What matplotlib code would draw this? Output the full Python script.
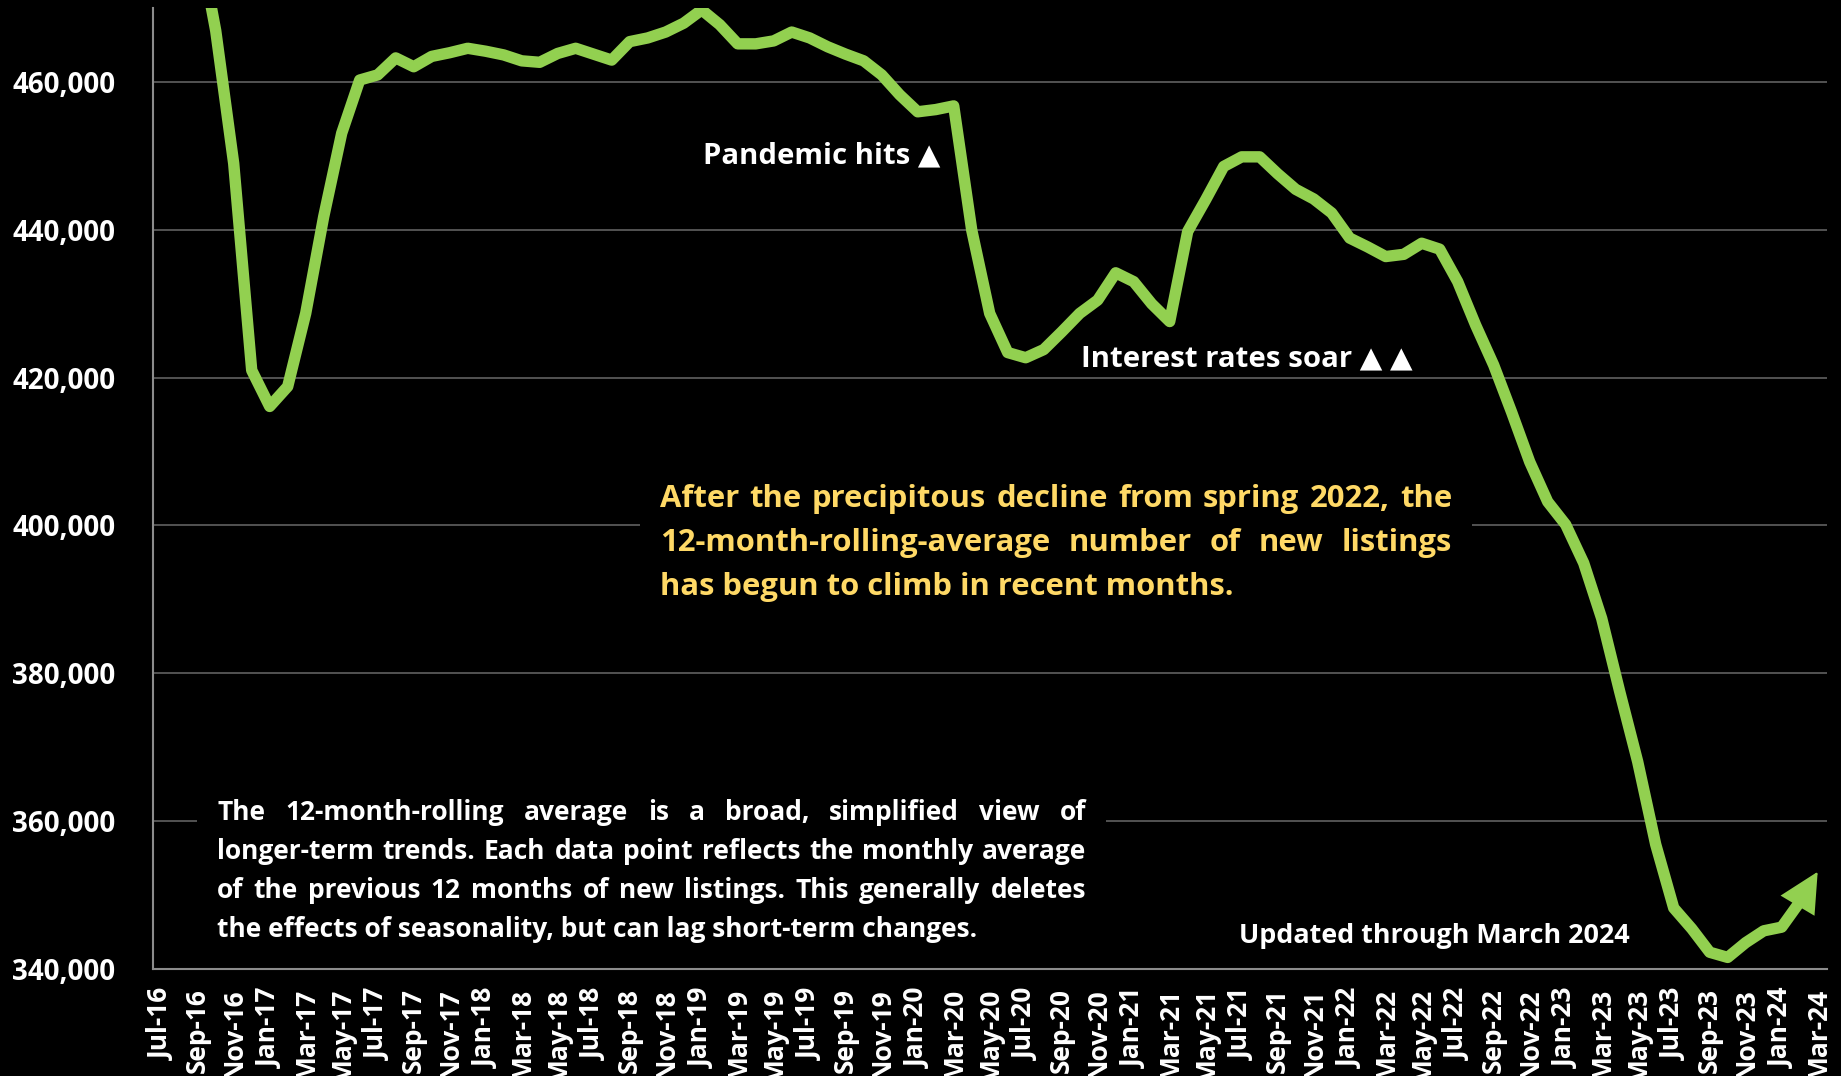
import matplotlib
matplotlib.use("Agg")
import matplotlib.pyplot as plt
from matplotlib.patches import Rectangle
from matplotlib.ticker import FixedLocator, FuncFormatter

# 12-month rolling average of new listings, monthly from Jul-16 to Mar-24
listings = [
    500000, 492000, 480000, 467000, 449000, 421000, 416100, 418800, 428700, 441800,
    453100, 460300, 461000, 463300, 462100, 463500, 464000, 464600, 464200, 463700,
    462900, 462700, 463900, 464600, 463800, 463000, 465500, 466000, 466800, 468000,
    469800, 467800, 465200, 465200, 465600, 466800, 466000, 464800, 463800, 462900,
    461000, 458300, 456000, 456300, 456800, 440000, 428700, 423400, 422700, 423800,
    426200, 428700, 430500, 434200, 433000, 430000, 427600, 439800, 444100, 448600,
    449900, 449900, 447600, 445500, 444200, 442300, 438900, 437700, 436400, 436700,
    438200, 437400, 433000, 427100, 421700, 415300, 408600, 403200, 400100, 394900,
    387400, 377500, 368000, 356800, 348200, 345400, 342200, 341500, 343500, 345100,
    345600, 349000, 353100,
]

tick_labels = [
    "Jul-16", "Sep-16", "Nov-16", "Jan-17", "Mar-17", "May-17", "Jul-17", "Sep-17",
    "Nov-17", "Jan-18", "Mar-18", "May-18", "Jul-18", "Sep-18", "Nov-18", "Jan-19",
    "Mar-19", "May-19", "Jul-19", "Sep-19", "Nov-19", "Jan-20", "Mar-20", "May-20",
    "Jul-20", "Sep-20", "Nov-20", "Jan-21", "Mar-21", "May-21", "Jul-21", "Sep-21",
    "Nov-21", "Jan-22", "Mar-22", "May-22", "Jul-22", "Sep-22", "Nov-22", "Jan-23",
    "Mar-23", "May-23", "Jul-23", "Sep-23", "Nov-23", "Jan-24", "Mar-24",
]

y_ticks = [340000, 360000, 380000, 400000, 420000, 440000, 460000]

W, H = 1841, 1076
GREEN = "#92D050"
GOLD = "#FFD966"
FONT = ["Open Sans", "DejaVu Sans"]

plt.rcParams["font.family"] = FONT
plt.rcParams["font.weight"] = "bold"

fig = plt.figure(figsize=(W / 100, H / 100), dpi=100, facecolor="black")
ax_l, ax_r, ax_t, ax_b = 152.7, 1826.7, 8.4, 968.5
ax = fig.add_axes([ax_l / W, 1 - ax_b / H, (ax_r - ax_l) / W, (ax_b - ax_t) / H])
ax.set_facecolor("black")

x = list(range(len(listings)))
# the series line, finished by a triangular arrowhead on the last month
ax.plot(x[:-1], listings[:-1], color=GREEN, lw=8.2, solid_joinstyle="round",
        solid_capstyle="round", zorder=3)
ax.annotate("", xy=(x[-1], listings[-1]), xytext=(x[-2], listings[-2]),
            arrowprops=dict(arrowstyle="-|>,head_length=2.6,head_width=1.3",
                            mutation_scale=10, color=GREEN, lw=1.5,
                            joinstyle="miter", shrinkA=0, shrinkB=0), zorder=3)

ax.set_xlim(-0.5, len(listings) - 0.5)
ax.set_ylim(340000, 470000)

ax.xaxis.set_major_locator(FixedLocator(x[::2]))
ax.set_xticklabels(tick_labels, rotation=90, color="white", fontsize=19,
                   fontweight="bold", va="top", ha="center")
ax.yaxis.set_major_locator(FixedLocator(y_ticks))
ax.yaxis.set_major_formatter(FuncFormatter(lambda v, p: f"{int(v):,}"))
ax.tick_params(axis="x", length=0, pad=14)
ax.tick_params(axis="y", length=0, pad=27, labelsize=20, labelcolor="white")
for lab in ax.get_yticklabels():
    lab.set_fontweight("bold")

ax.set_axisbelow(True)
ax.yaxis.grid(True, color="#595959", lw=1.3)
ax.xaxis.grid(False)
for side in ("top", "right"):
    ax.spines[side].set_visible(False)
for side in ("left", "bottom"):
    ax.spines[side].set_color("#8c8c8c")
    ax.spines[side].set_linewidth(1.5)

renderer = fig.canvas.get_renderer()


def px(xp, yp):
    return xp / W, 1 - yp / H


def text_width(s, size):
    t = fig.text(0, 0, s, fontsize=size, fontweight="bold", family=FONT)
    w = t.get_window_extent(renderer).width
    t.remove()
    return w


def fit_size(s, target, base=20.0):
    return base * target / text_width(s, base)


def single_line(s, left, right, baseline, color="white"):
    size = fit_size(s, right - left)
    fig.text(*px(left, baseline), s, fontsize=size, fontweight="bold",
             color=color, ha="left", va="baseline", family=FONT, zorder=5)


def paragraph(lines, left, right, baseline0, gap, last_width, color):
    size = fit_size(lines[-1], last_width)
    for k, line in enumerate(lines):
        yb = baseline0 + k * gap
        if k == len(lines) - 1:
            fig.text(*px(left, yb), line, fontsize=size, fontweight="bold",
                     color=color, ha="left", va="baseline", family=FONT, zorder=5)
            continue
        words = line.split()
        widths = [text_width(w, size) for w in words]
        space = (right - left - sum(widths)) / (len(words) - 1)
        xp = left
        for w, wd in zip(words, widths):
            fig.text(*px(xp, yb), w, fontsize=size, fontweight="bold",
                     color=color, ha="left", va="baseline", family=FONT, zorder=5)
            xp += wd + space


# black panels behind the two text blocks
for (l, t, r, b) in [(640, 470, 1472, 615), (197, 785, 1106, 955)]:
    ax.add_patch(Rectangle((l / W, 1 - b / H), (r - l) / W, (b - t) / H,
                           transform=fig.transFigure, facecolor="black",
                           edgecolor="none", zorder=1))

single_line("Pandemic hits \u25B2", 703, 940, 163.3)
single_line("Interest rates soar \u25B2 \u25B2", 1081, 1413, 366.7)
single_line("Updated through March 2024", 1239, 1630, 943)

paragraph(
    ["After the precipitous decline from spring 2022, the",
     "12-month-rolling-average number of new listings",
     "has begun to climb in recent months."],
    660, 1452, 506.9, 44.1, 575, GOLD)

paragraph(
    ["The 12-month-rolling average is a broad, simplified view of",
     "longer-term trends. Each data point reflects the monthly average",
     "of the previous 12 months of new listings. This generally deletes",
     "the effects of seasonality, but can lag short-term changes."],
    217, 1086, 820.4, 38.9, 762, "white")

fig.savefig("out.png", dpi=100, facecolor="black")
